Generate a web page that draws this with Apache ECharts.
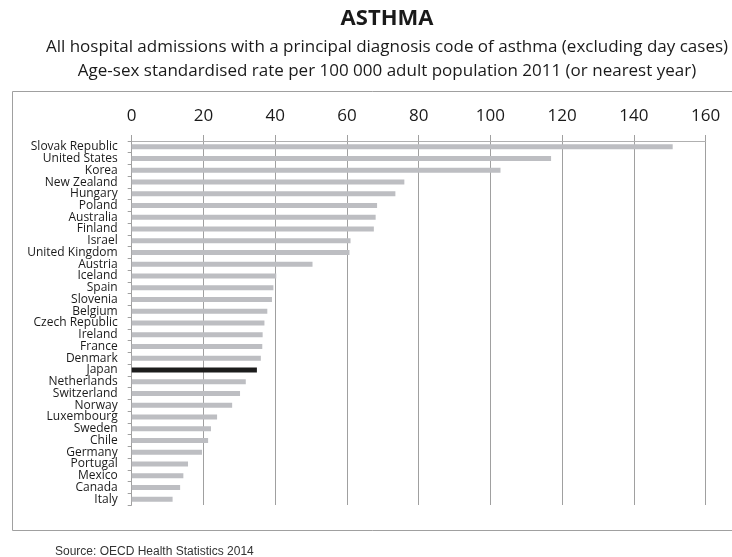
<!DOCTYPE html>
<html>
<head>
<meta charset="utf-8">
<script src="https://cdn.jsdelivr.net/npm/echarts@6/dist/echarts.min.js"></script>
<style>
  html, body { margin: 0; padding: 0; background: #fff; }
  #chart { width: 732px; height: 557px; }
</style>
</head>
<body>
<div id="chart"></div>
<script>
// Asthma hospital admissions, age-sex standardised rate per 100 000 adults, 2011
const countries = [
  'Slovak Republic', 'United States', 'Korea', 'New Zealand', 'Hungary',
  'Poland', 'Australia', 'Finland', 'Israel', 'United Kingdom', 'Austria',
  'Iceland', 'Spain', 'Slovenia', 'Belgium', 'Czech Republic', 'Ireland',
  'France', 'Denmark', 'Japan', 'Netherlands', 'Switzerland', 'Norway',
  'Luxembourg', 'Sweden', 'Chile', 'Germany', 'Portugal', 'Mexico',
  'Canada', 'Italy'
];
const rates = [
  150.8, 116.9, 102.8, 76.0, 73.5,
  68.4, 68.0, 67.5, 61.0, 60.7, 50.4,
  40.3, 39.5, 39.1, 37.8, 37.0, 36.5,
  36.4, 36.0, 34.9, 31.8, 30.2, 28.0,
  23.8, 22.1, 21.3, 19.6, 15.7, 14.4,
  13.5, 11.4
];
const xTicks = [0, 20, 40, 60, 80, 100, 120, 140, 160];
const highlighted = 'Japan';

const chart = echarts.init(document.getElementById('chart'), null, { renderer: 'canvas' });

const barData = countries.map((c, i) => ({
  value: rates[i],
  itemStyle: { color: c === highlighted ? '#1c1c1c' : '#bdbec2' }
}));

chart.setOption({
  animation: false,
  backgroundColor: '#ffffff',
  title: [
    {
      text: 'ASTHMA',
      left: 382, top: 3, textAlign: 'center',
      textStyle: { fontFamily: 'Open Sans', fontWeight: 'bold', fontSize: 22, color: '#1a1a1a' }
    },
    {
      text: 'All hospital admissions with a principal diagnosis code of asthma (excluding day cases)',
      left: 382, top: 34, textAlign: 'center',
      textStyle: { fontFamily: 'Open Sans', fontWeight: 'normal', fontSize: 17, color: '#1a1a1a' }
    },
    {
      text: 'Age-sex standardised rate per 100 000 adult population 2011 (or nearest year)',
      left: 382, top: 58, textAlign: 'center',
      textStyle: { fontFamily: 'Open Sans', fontWeight: 'normal', fontSize: 17, color: '#1a1a1a' }
    },
    {
      text: 'Source: OECD Health Statistics 2014',
      left: 50, top: 541,
      textStyle: { fontFamily: 'Liberation Sans', fontWeight: 'normal', fontSize: 12, color: '#333' }
    }
  ],
  graphic: [
    {
      type: 'rect',
      shape: { x: 12.5, y: 91.5, width: 730, height: 439 },
      style: { fill: 'none', stroke: '#a0a0a0', lineWidth: 1 },
      silent: true,
      z: -1
    }
  ],
  grid: { left: 131.7, right: 26.3, top: 141, bottom: 52, containLabel: false },
  xAxis: {
    type: 'value',
    position: 'top',
    min: xTicks[0],
    max: xTicks[xTicks.length - 1],
    interval: 20,
    axisLine: { show: true, lineStyle: { color: '#b0b0b0', width: 1 } },
    axisTick: { show: true, inside: false, length: 6, lineStyle: { color: '#a0a0a0' } },
    axisLabel: {
      margin: 16,
      fontFamily: 'Open Sans', fontSize: 17, color: '#1a1a1a',
      formatter: v => String(v)
    },
    splitLine: { show: true, lineStyle: { color: '#a0a0a0', width: 1 } }
  },
  yAxis: {
    type: 'category',
    data: countries,
    inverse: true,
    axisLine: { show: true, lineStyle: { color: '#a0a0a0', width: 1 } },
    axisTick: { show: true, length: 4, lineStyle: { color: '#a0a0a0' } },
    axisLabel: {
      margin: 14, interval: 0,
      fontFamily: 'Open Sans', fontSize: 12, color: '#1a1a1a',
      lineHeight: 12
    }
  },
  series: [
    {
      type: 'bar',
      data: barData,
      barWidth: 5,
      silent: true
    }
  ]
});
</script>
</body>
</html>
